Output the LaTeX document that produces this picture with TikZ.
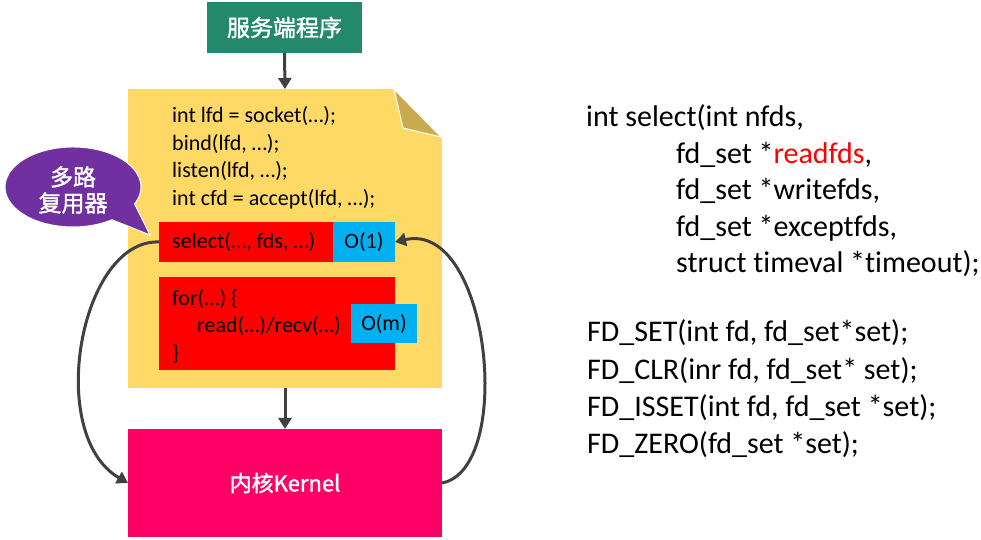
\documentclass[tikz,border=0pt]{standalone}
\usepackage{fontspec}
\setmainfont{Carlito}[Ligatures={NoCommon,NoRare,NoContextual}]
\newfontfamily\cjk{Noto Sans CJK SC}[FakeBold=1.6]
\usetikzlibrary{arrows.meta,calc}
\definecolor{titlegreen}{HTML}{23896A}
\definecolor{docyellow}{HTML}{FFD966}
\definecolor{foldtan}{HTML}{C9AA4E}
\definecolor{selred}{HTML}{FF0000}
\definecolor{costblue}{HTML}{00B0F0}
\definecolor{kernelpink}{HTML}{FF0066}
\definecolor{muxpurple}{HTML}{7030A0}
\definecolor{arrowgray}{HTML}{404040}

\begin{document}
\begin{tikzpicture}[x=1bp, y=1bp,
  blk/.style={rectangle, fill=#1, inner sep=0pt, outer sep=0pt},
  code/.style={anchor=west, align=left, inner sep=0pt, font=\fontsize{22bp}{27.5bp}\selectfont},
  api/.style={anchor=west, align=left, inner sep=0pt, font=\fontsize{30bp}{#1}\selectfont},
  arr/.style={-{Triangle[length=11bp, width=13bp]}, line width=3bp, arrowgray}
]
  \useasboundingbox (0,0) rectangle (981,540);

  % program and source file
  \node[blk=titlegreen, minimum width=155bp, minimum height=51bp, text=white,
        font=\cjk\fontsize{23bp}{28bp}\selectfont] (prog) at (284.5,512.5) {服务端程序};
  \node[blk=docyellow, minimum width=314bp, minimum height=299bp] (doc) at (285,301.5) {};
  \fill[white] (394,451) -- (443,451) -- (443,402) -- cycle;
  \filldraw[foldtan, draw=white, line width=1bp] (394,451) -- (403,412) -- (441,403) -- cycle;

  \node[code] (setup) at (172,382.5) {int lfd = socket(…);\\bind(lfd, …);\\listen(lfd, …);\\int cfd = accept(lfd, …);};

  \node[blk=selred, minimum width=174bp, minimum height=40bp] (sel) at (246,298) {};
  \node[code] (seltxt) at (172,298) {select(…, fds, …)};
  \node[blk=costblue, minimum width=62bp, minimum height=40bp, font=\fontsize{22bp}{26bp}\selectfont] (o1) at (364,298) {O(1)};

  \node[blk=selred, minimum width=236bp, minimum height=93bp] (loop) at (277,216.5) {};
  \node[code] (looptxt) at (172,214) {for(…) \{\\\hspace*{25bp}read(…)/recv(…)\\\}};
  \node[blk=costblue, minimum width=66bp, minimum height=39bp, font=\fontsize{22bp}{26bp}\selectfont] (om) at (384,216.5) {O(m)};

  % multiplexer bubble
  \filldraw[muxpurple, draw=white, line width=1bp] (73,353) ++(-25:68 and 40)
    arc[start angle=-25, end angle=305, x radius=68, y radius=40] -- (150,305) -- cycle;
  \node[align=center, text=white, inner sep=0pt,
        font=\cjk\fontsize{23bp}{26bp}\selectfont] (mux) at (73,350) {多路\\复用器};

  % kernel
  \node[blk=kernelpink, minimum width=314bp, minimum height=108bp, text=white,
        font=\cjk\fontsize{22bp}{26bp}\selectfont] (kernel) at (285,57) {内核Kernel};

  \draw[arr] (prog.south) -- (doc.north);
  \draw[arr] (doc.south) -- (kernel.north);
  \draw[arr] (sel.west) .. controls +(-79,3) and +(-83,48) .. (kernel.west);
  \draw[arr] (kernel.east) .. controls +(73,14) and +(95,22) .. (o1.east);

  % select API
  \node[api=36.5bp] (selsig) at (586,349) {int select(int nfds,\\
    \hspace*{90bp}fd\_set *\textcolor{selred}{readfds},\\
    \hspace*{90bp}fd\_set *writefds,\\
    \hspace*{90bp}fd\_set *exceptfds,\\
    \hspace*{90bp}struct timeval *timeout);};
  \node[api=37.4bp] (fdmacros) at (587,151) {FD\_SET(int fd, fd\_set*set);\\
    FD\_CLR(inr fd, fd\_set* set);\\
    FD\_ISSET(int fd, fd\_set *set);\\
    FD\_ZERO(fd\_set *set);};
\end{tikzpicture}
\end{document}
